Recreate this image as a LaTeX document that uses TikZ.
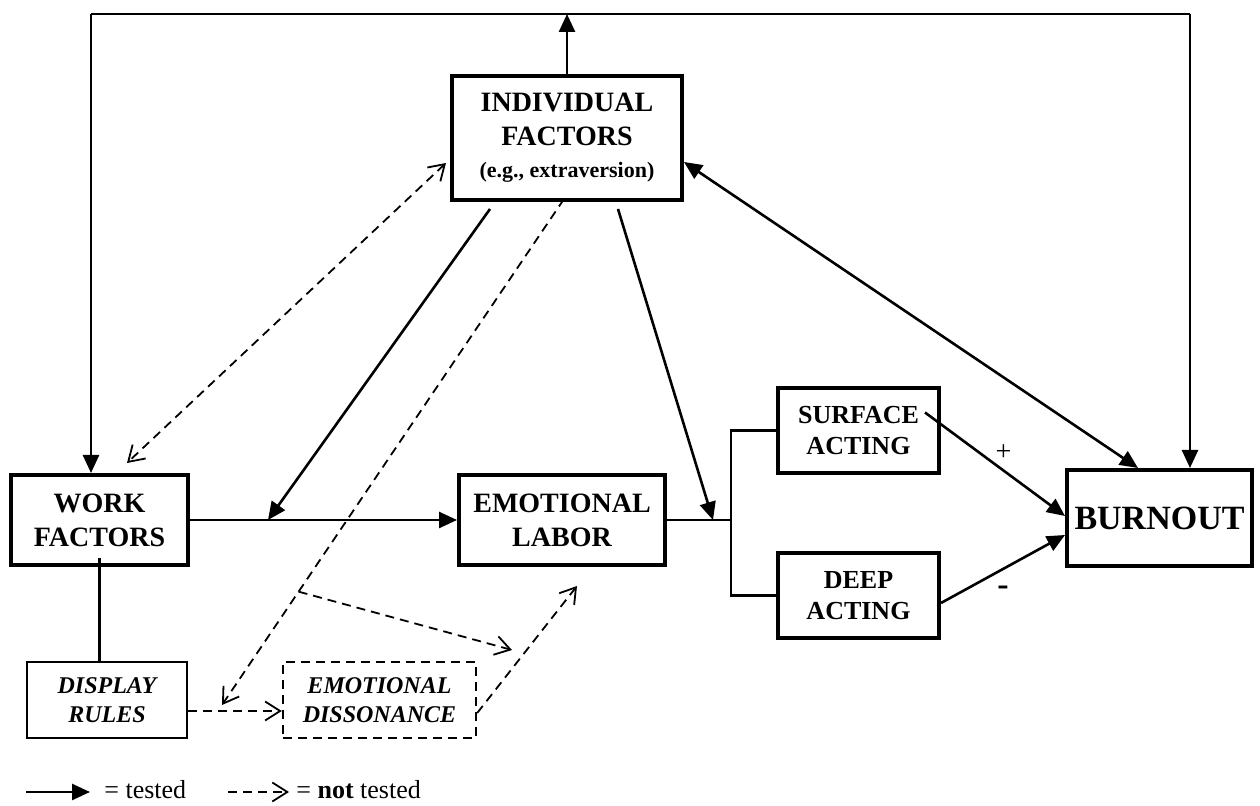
\documentclass[tikz,border=0pt]{standalone}
\usepackage{fontspec}
\setmainfont{Liberation Serif}
\usepackage{tikz}
\usetikzlibrary{positioning, arrows.meta}
\usetikzlibrary{shapes, positioning}

\begin{document}
\begin{tikzpicture}[
            x=0.5pt, y=-0.5pt,
            box/.style={draw, line width=2pt, align=center, inner sep=1pt,
                font=\bfseries\fontsize{14}{17}\selectfont},
            minorbox/.style={draw, line width=1.2pt, align=center, inner sep=1pt,
                font=\bfseries\itshape\fontsize{12}{14.5}\selectfont},
            link/.style={line width=1.2pt},
            tested/.style={line width=1.3pt, -{Triangle[length=9pt,width=8pt]}},
            testedboth/.style={line width=1.3pt, {Triangle[length=9pt,width=8pt]}-{Triangle[length=9pt,width=8pt]}},
            nottested/.style={line width=0.9pt, dash pattern=on 4.5pt off 3pt,
                -{Straight Barb[length=7.5pt,width=9.5pt]}},
            nottestedboth/.style={line width=0.9pt, dash pattern=on 4.5pt off 3pt,
                {Straight Barb[length=7.5pt,width=9.5pt]}-{Straight Barb[length=7.5pt,width=9.5pt]}},
        ]
            \useasboundingbox (0,0) rectangle (1260,806);

            % boxes
            \node[box, minimum width=115pt, minimum height=62pt] (indiv) at (567,138)
                {INDIVIDUAL\\FACTORS\\[-1pt]{\fontsize{11}{13}\selectfont (e.g., extraversion)}};
            \node[box, minimum width=88.5pt, minimum height=45pt] (work) at (99.5,520) {WORK\\FACTORS};
            \node[box, minimum width=103pt, minimum height=45pt] (el) at (562,520) {EMOTIONAL\\LABOR};
            \node[box, font=\bfseries\fontsize{13}{15.5}\selectfont, minimum width=80.5pt, minimum height=42.5pt] (surf) at (858.5,430.5) {SURFACE\\ACTING};
            \node[box, font=\bfseries\fontsize{13}{15.5}\selectfont, minimum width=80.5pt, minimum height=42.5pt] (deep) at (858.5,595.5) {DEEP\\ACTING};
            \node[box, font=\bfseries\fontsize{17}{20}\selectfont, minimum width=92.5pt, minimum height=48pt] (burn) at (1159.5,518) {BURNOUT};
            \node[minorbox, minimum width=80pt, minimum height=38pt] (disp) at (107,700) {DISPLAY\\RULES};
            \node[minorbox, dash pattern=on 4.5pt off 3pt, minimum width=96.5pt, minimum height=38pt] (diss) at (379.5,700) {EMOTIONAL\\DISSONANCE};

            % feedback loop along the top
            \coordinate (tl) at (91,14);
            \coordinate (tr) at (1190,14);
            \draw[link] (tl) -- (tr);
            \draw[tested] (indiv.north) -- (indiv.north |- tl);
            \draw[tested] (tl) -- (tl |- work.north);
            \draw[tested] (tr) -- (tr |- burn.north);

            % tested paths
            \coordinate (hit) at (268,520);
            \coordinate (jn) at (731,520);
            \coordinate (jtip) at (713,520);
            \draw[tested] (work.east) -- (el.west);
            \draw[tested] ([xshift=-38.5pt,yshift=-3.5pt]indiv.south) -- (hit);
            \draw[link] (el.east) -- (jn);
            \draw[link] (surf.west) -| (jn) |- (deep.west);
            \draw[tested] ([xshift=25.5pt,yshift=-3.5pt]indiv.south) -- (jtip);
            \draw[testedboth] ([yshift=-12pt]indiv.east) -- ([xshift=-10.75pt]burn.north);
            \draw[tested] ([xshift=-8pt,yshift=9pt]surf.east) -- ([yshift=1pt]burn.west)
                node[pos=0.56, above=4.5pt, inner sep=0, font=\fontsize{14}{16}\selectfont] (plus) {+};
            \draw[tested] ([yshift=-3.75pt]deep.east) -- ([yshift=-8.5pt]burn.west)
                node[midway, below=8pt, inner sep=0, font=\bfseries\fontsize{17}{19}\selectfont] (minus) {-};
            \draw[link] ([yshift=4.5pt]work.south) -- (work.south |- disp.north);

            % not tested paths
            \coordinate (drtip) at (222,705);
            \coordinate (modtip) at (512,650);
            \draw[nottestedboth] ([xshift=-2pt,yshift=-12.5pt]indiv.west) -- ([xshift=13.75pt,yshift=5pt]work.north);
            \draw[nottested] ([xshift=-1.5pt,yshift=1.5pt]indiv.south) -- coordinate[pos=0.776] (modsrc) (drtip);
            \draw[nottested] (modsrc) -- (modtip);
            \draw[nottested] ([yshift=-5.5pt]disp.east) -- ([yshift=-5.5pt]diss.west);
            \draw[nottested] ([yshift=-6.5pt]diss.east) -- ([xshift=7.5pt,yshift=-9.5pt]el.south);

            % legend
            \coordinate (lga) at (26,792);
            \coordinate (lgb) at (90,792);
            \coordinate (lgc) at (228,792);
            \coordinate (lgd) at (289,792);
            \draw[tested] (lga) -- (lgb);
            \node[anchor=west, inner sep=0, font=\fontsize{13}{15}\selectfont] (lgt) at (104,790) {= tested};
            \draw[nottested] (lgc) -- (lgd);
            \node[anchor=west, inner sep=0, font=\fontsize{13}{15}\selectfont] (lgn) at (296,790) {= \textbf{not} tested};
        \end{tikzpicture}
\end{document}
